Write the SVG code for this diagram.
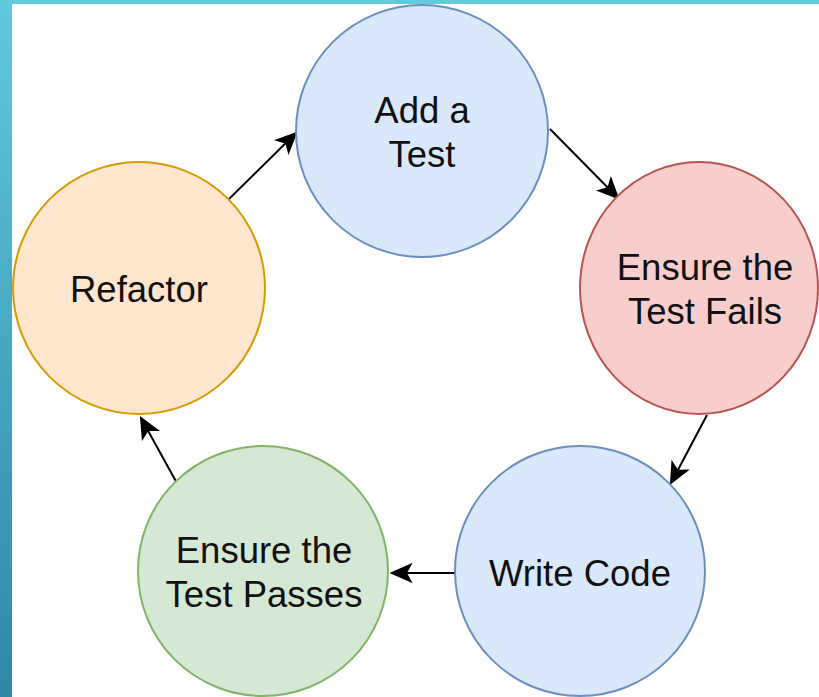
<svg xmlns="http://www.w3.org/2000/svg" width="819" height="697" viewBox="0 0 819 697">
<defs>
<linearGradient id="side" x1="0" y1="0" x2="0" y2="1">
<stop offset="0" stop-color="#5fcadd"/>
<stop offset="1" stop-color="#2f86a7"/>
</linearGradient>
<marker id="arr" viewBox="0 0 20 20" refX="18" refY="10" markerWidth="23" markerHeight="23" markerUnits="userSpaceOnUse" orient="auto">
<path d="M0,1 L20,10 L0,19 L5,10 Z" fill="#000"/>
</marker>
<style>
text{font-family:"Liberation Sans",Arial,sans-serif;font-size:36.5px;fill:#111;text-anchor:middle}
.c{stroke-width:2}
.blue{fill:#dae8fc;stroke:#6c8ebf}
.red{fill:#f8cecc;stroke:#b85450}
.orange{fill:#ffe6cc;stroke:#d79b00}
.green{fill:#d5e8d4;stroke:#82b366}
.e{stroke:#000;stroke-width:2;fill:none;marker-end:url(#arr)}
</style>
</defs>
<rect width="819" height="697" fill="#fff"/>
<rect x="0" y="0" width="12" height="697" fill="url(#side)"/>
<rect x="0" y="0" width="819" height="4" fill="#62cadd"/>
<g id="connectors">
<line class="e" x1="229" y1="199" x2="296" y2="133"/>
<line class="e" x1="550" y1="129" x2="618" y2="198"/>
<line class="e" x1="707" y1="415" x2="671" y2="483"/>
<line class="e" x1="455" y1="573" x2="392" y2="573"/>
<line class="e" x1="178" y1="485" x2="141" y2="418"/>
</g>
<g id="add-test">
<circle class="c blue" cx="422" cy="131" r="126"/>
<text x="422" y="123">Add a</text>
<text x="422" y="167">Test</text>
</g>
<g id="ensure-fails">
<ellipse class="c red" cx="699" cy="288" rx="119" ry="126"/>
<text x="705" y="280">Ensure the</text>
<text x="705" y="324">Test Fails</text>
</g>
<g id="write-code">
<circle class="c blue" cx="580" cy="571" r="125"/>
<text x="580" y="586">Write Code</text>
</g>
<g id="ensure-passes">
<circle class="c green" cx="263" cy="571" r="125"/>
<text x="264" y="563">Ensure the</text>
<text x="264" y="607">Test Passes</text>
</g>
<g id="refactor">
<circle class="c orange" cx="139" cy="288" r="126"/>
<text x="139" y="302">Refactor</text>
</g>
</svg>
